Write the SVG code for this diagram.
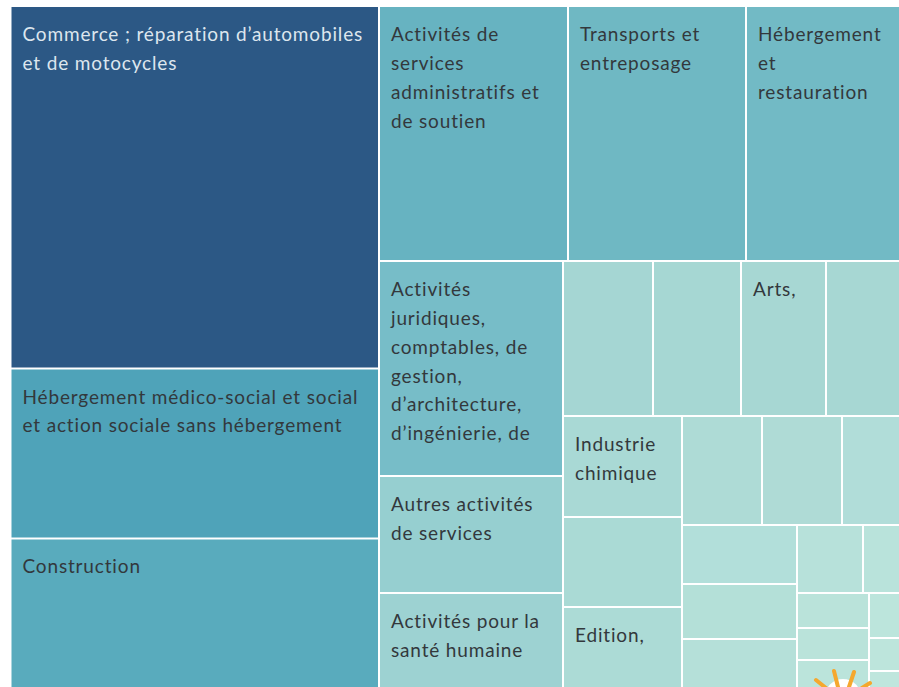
<svg xmlns="http://www.w3.org/2000/svg" width="899" height="687" viewBox="0 0 899 687">
<style>
text{font-family:"Lato","Noto Sans",sans-serif;font-size:19px;fill:#33383c;letter-spacing:.84px}
text.l{fill:#dde6ee}
#sun line{stroke:#f5a82e;stroke-width:4;stroke-linecap:round}
</style>
<rect width="899" height="687" fill="#fff"/>
<g id="n1"><rect x="11.5" y="7" width="366.5" height="360.5" fill="#2c5885"/><text class="l" x="22.5" y="40.5">Commerce ; réparation d’automobiles</text><text class="l" x="22.5" y="69.5">et de motocycles</text></g>
<g id="n2"><rect x="11.5" y="369.5" width="366.5" height="168" fill="#4fa3b9"/><text x="22.5" y="403.5">Hébergement médico-social et social</text><text x="22.5" y="431.5">et action sociale sans hébergement</text></g>
<g id="n3"><rect x="11.5" y="539.5" width="366.5" height="147.5" fill="#59abbd"/><text x="22.5" y="572.5">Construction</text></g>
<g id="n4"><rect x="380" y="7" width="187" height="253" fill="#67b3c1"/><text x="391" y="40.5">Activités de</text><text x="391" y="69.5">services</text><text x="391" y="98.5">administratifs et</text><text x="391" y="127.5">de soutien</text></g>
<g id="n5"><rect x="569" y="7" width="176" height="253" fill="#6fb8c3"/><text x="580" y="40.5">Transports et</text><text x="580" y="69.5">entreposage</text></g>
<g id="n6"><rect x="747" y="7" width="152" height="253" fill="#72bac5"/><text x="758" y="40.5">Hébergement</text><text x="758" y="69.5">et</text><text x="758" y="98.5">restauration</text></g>
<g id="n7"><rect x="380" y="262" width="182" height="213" fill="#77bdc8"/><text x="391" y="295.5">Activités</text><text x="391" y="324.5">juridiques,</text><text x="391" y="353.5">comptables, de</text><text x="391" y="382.5">gestion,</text><text x="391" y="411">d’architecture,</text><text x="391" y="439.5">d’ingénierie, de</text></g>
<g id="n8"><rect x="380" y="477" width="182" height="115" fill="#96cfd0"/><text x="391" y="510.5">Autres activités</text><text x="391" y="539.5">de services</text></g>
<g id="n9"><rect x="380" y="594" width="182" height="93" fill="#9dd2d2"/><text x="391" y="627.5">Activités pour la</text><text x="391" y="656.5">santé humaine</text></g>
<g id="n10"><rect x="564" y="262" width="88" height="153" fill="#a5d6d3"/></g>
<g id="n11"><rect x="654" y="262" width="86" height="153" fill="#a6d7d3"/></g>
<g id="n12"><rect x="742" y="262" width="83" height="153" fill="#a7d7d3"/><text x="753" y="295.5">Arts,</text></g>
<g id="n13"><rect x="827" y="262" width="72" height="153" fill="#a7d7d3"/></g>
<g id="n14"><rect x="564" y="417" width="117" height="99" fill="#a9d9d5"/><text x="575" y="451">Industrie</text><text x="575" y="480">chimique</text></g>
<g id="n15"><rect x="564" y="518" width="117" height="88" fill="#aadad5"/></g>
<g id="n16"><rect x="564" y="608" width="117" height="79" fill="#acdbd6"/><text x="575" y="642">Edition,</text></g>
<g id="n17"><rect x="683" y="417" width="78" height="107" fill="#aedbd6"/></g>
<g id="n18"><rect x="763" y="417" width="78" height="107" fill="#afdbd6"/></g>
<g id="n19"><rect x="843" y="417" width="56" height="107" fill="#b1ddd9"/></g>
<g id="n20"><rect x="683" y="526" width="113" height="57" fill="#b2dfda"/></g>
<g id="n21"><rect x="683" y="585" width="113" height="53" fill="#b4e0d8"/></g>
<g id="n22"><rect x="683" y="640" width="113" height="47" fill="#b5e0d9"/></g>
<g id="n23"><rect x="798" y="526" width="64" height="66" fill="#b7e1da"/></g>
<g id="n24"><rect x="864" y="526" width="35" height="66" fill="#b9e3db"/></g>
<g id="n25"><rect x="798" y="594" width="70" height="33" fill="#bae3da"/></g>
<g id="n26"><rect x="798" y="629" width="70" height="30" fill="#bae3da"/></g>
<g id="n27"><rect x="798" y="661" width="70" height="26" fill="#bbe4db"/></g>
<g id="n28"><rect x="870" y="594" width="29" height="43" fill="#bce5dc"/></g>
<g id="n29"><rect x="870" y="639" width="29" height="31" fill="#bde5dc"/></g>
<g id="n30"><rect x="870" y="672" width="29" height="15" fill="#bfe6dd"/></g>
<g id="sun"><circle cx="843" cy="697" r="18" fill="#fff"/><line x1="816" y1="680" x2="826" y2="688"/><line x1="834" y1="671" x2="838" y2="687"/><line x1="854" y1="672" x2="849" y2="687"/><line x1="870" y1="683" x2="862" y2="688"/></g>
</svg>
